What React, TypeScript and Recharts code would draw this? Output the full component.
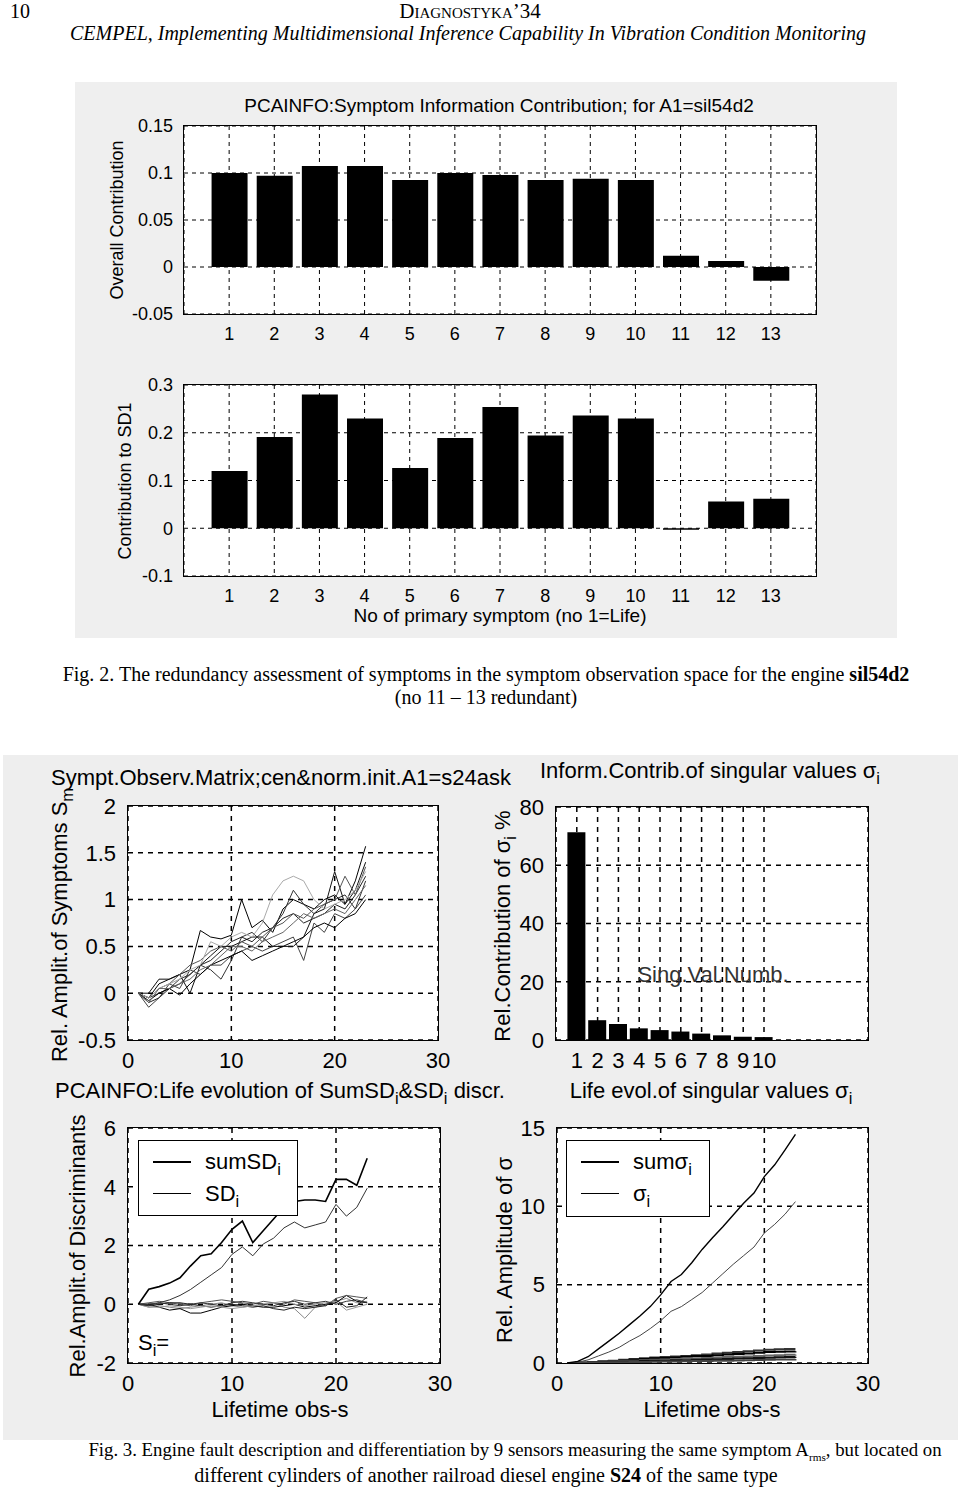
import React from 'react';
import { BarChart, Bar, LineChart, Line, XAxis, YAxis, CartesianGrid } from 'recharts';

// Fig. 2 data: symptoms 1..13
const symptomNo = [1, 2, 3, 4, 5, 6, 7, 8, 9, 10, 11, 12, 13];
const overallContribution = [0.1, 0.097, 0.1075, 0.1075, 0.0925, 0.1, 0.098, 0.0925, 0.094, 0.0925, 0.012, 0.0064, -0.0146];
const contributionSD1 = [0.12, 0.191, 0.28, 0.23, 0.126, 0.189, 0.254, 0.194, 0.236, 0.23, -0.003, 0.056, 0.062];

// Fig. 3 data: lifetime observations 1..23
const obs = [1, 2, 3, 4, 5, 6, 7, 8, 9, 10, 11, 12, 13, 14, 15, 16, 17, 18, 19, 20, 21, 22, 23];
const symp1 = [0, -0.05, 0.1, 0.15, 0.2, 0.25, 0.67, 0.6, 0.58, 0.62, 1.0, 0.7, 0.78, 0.65, 0.9, 1.0, 0.95, 0.9, 1.0, 1.05, 0.95, 1.2, 1.57];
const symp2 = [0, -0.1, -0.05, 0.05, 0.1, 0.2, 0.3, 0.35, 0.45, 0.55, 0.6, 0.55, 0.65, 0.7, 0.8, 0.85, 0.75, 0.8, 0.85, 0.95, 0.9, 1.05, 1.25];
const symp3 = [0, -0.15, -0.05, 0.1, 0.05, 0.25, 0.2, 0.3, 0.3, 0.4, 0.45, 0.5, 0.45, 0.5, 0.55, 0.6, 0.35, 0.75, 0.65, 0.85, 0.8, 0.9, 1.05];
const symp4 = [0, 0, 0.15, 0.15, 0.2, 0.0, 0.3, 0.4, 0.5, 0.5, 0.55, 0.6, 0.6, 0.5, 0.5, 0.5, 0.6, 0.85, 0.9, 1.3, 0.95, 1.1, 1.4];
const symp5 = [0, -0.05, 0.0, 0.05, 0.15, 0.2, 0.3, 0.25, 0.15, 0.35, 0.6, 0.65, 0.55, 0.7, 0.85, 1.1, 0.95, 0.85, 0.95, 1.0, 1.05, 0.9, 1.2];
const symp6 = [0, -0.05, 0.05, 0.1, 0.2, 0.3, 0.35, 0.45, 0.5, 0.45, 0.55, 0.5, 0.6, 0.7, 0.75, 0.85, 0.8, 0.9, 0.95, 1.0, 1.25, 1.05, 1.35];
const symp7 = [0, -0.05, 0.05, 0.1, 0.15, 0.25, 0.3, 0.55, 0.5, 0.6, 0.65, 0.6, 0.75, 1.05, 1.2, 1.25, 1.2, 1.0, 0.9, 0.95, 1.0, 1.1, 1.3];
const symp8 = [0, -0.08, 0.0, 0.05, -0.02, 0.1, 0.2, 0.3, 0.35, 0.4, 0.45, 0.35, 0.4, 0.45, 0.5, 0.55, 0.6, 0.7, 0.75, 0.7, 0.8, 0.85, 1.0];
const symp9 = [0, -0.1, 0.05, 0.05, 0.1, 0.15, 0.25, 0.3, 0.4, 0.5, 0.5, 0.45, 0.55, 0.6, 0.65, 0.75, 0.85, 0.8, 0.85, 0.9, 0.85, 1.0, 1.15];

const sumSD = [0, 0.51, 0.6, 0.72, 0.9, 1.3, 1.65, 1.72, 2.1, 2.55, 2.83, 2.1, 2.5, 2.9, 3.3, 3.5, 3.55, 3.55, 3.5, 4.25, 4.25, 4.05, 4.97];
const sd1 = [0, -0.05, 0.05, 0.15, 0.3, 0.5, 0.75, 1.0, 1.25, 1.7, 1.95, 1.65, 2.05, 2.25, 2.6, 2.8, 2.6, 2.7, 2.8, 3.4, 3.0, 3.3, 3.95];
const sd2 = [0, -0.1, -0.05, -0.1, -0.15, -0.1, -0.05, 0, 0.05, -0.05, -0.1, -0.05, 0, 0.05, -0.1, -0.15, -0.48, -0.1, 0, 0.1, 0.2, 0.05, 0.1];
const sd3 = [0, 0, -0.1, -0.2, -0.15, -0.3, -0.3, -0.2, -0.1, -0.05, 0, -0.05, -0.1, -0.1, -0.05, 0, -0.1, -0.05, 0, 0.05, 0.3, 0.1, 0.05];
const sd4 = [0, 0.05, 0.1, 0.05, 0, -0.05, 0.05, 0.1, 0.15, 0.1, 0.05, 0, 0.1, 0.05, 0, 0.15, 0.1, 0.05, -0.05, 0.2, 0.3, 0.25, 0.2];
const sd5 = [0, -0.05, 0, 0.05, 0.05, 0, -0.05, -0.1, -0.05, 0, -0.05, -0.1, -0.05, -0.15, -0.2, -0.1, -0.15, -0.1, -0.05, 0.15, -0.1, -0.05, 0.25];
const sd6 = [0, -0.1, -0.1, -0.05, -0.1, -0.15, -0.1, -0.05, -0.1, -0.15, -0.1, -0.05, 0, 0.05, 0.1, 0, -0.05, 0, 0.05, 0.1, -0.2, -0.1, 0];
const sd7 = [0, 0, 0.05, 0, -0.05, 0, 0.05, 0, -0.05, 0.05, 0.1, 0.05, 0, -0.05, 0.05, 0.1, 0, 0.05, 0.1, 0, 0.1, 0.15, 0.05];

const singNo = [1, 2, 3, 4, 5, 6, 7, 8, 9, 10];
const singContrib = [71.3, 6.8, 5.5, 4.0, 3.4, 2.9, 2.2, 1.6, 1.1, 1.0];

const sumSigma = [0, 0.1, 0.4, 0.9, 1.4, 1.9, 2.45, 3.0, 3.6, 4.35, 5.2, 5.65, 6.4, 7.25, 8.0, 8.7, 9.45, 10.2, 10.85, 11.9, 12.65, 13.6, 14.6];
const sigma1 = [0, 0.05, 0.2, 0.45, 0.7, 1.0, 1.4, 1.75, 2.2, 2.7, 3.3, 3.6, 4.05, 4.5, 5.1, 5.7, 6.3, 6.85, 7.4, 8.3, 8.85, 9.5, 10.3];
const sigma2 = [0, 0.02, 0.05, 0.1, 0.15, 0.2, 0.25, 0.3, 0.35, 0.38, 0.42, 0.45, 0.5, 0.55, 0.6, 0.65, 0.7, 0.75, 0.8, 0.85, 0.88, 0.9, 0.9];
const sigma3 = [0, 0.02, 0.05, 0.1, 0.12, 0.15, 0.2, 0.25, 0.3, 0.32, 0.35, 0.4, 0.45, 0.45, 0.5, 0.55, 0.58, 0.6, 0.65, 0.7, 0.72, 0.74, 0.75];
const sigma4 = [0, 0.02, 0.04, 0.07, 0.1, 0.12, 0.15, 0.18, 0.2, 0.22, 0.25, 0.28, 0.3, 0.32, 0.35, 0.38, 0.4, 0.42, 0.45, 0.48, 0.5, 0.52, 0.55];
const sigma5 = [0, 0.01, 0.03, 0.05, 0.07, 0.09, 0.1, 0.12, 0.14, 0.15, 0.17, 0.18, 0.2, 0.22, 0.24, 0.26, 0.28, 0.3, 0.32, 0.34, 0.36, 0.38, 0.4];
const sigma6 = [0, 0.01, 0.02, 0.03, 0.04, 0.05, 0.06, 0.07, 0.08, 0.09, 0.1, 0.11, 0.12, 0.13, 0.14, 0.15, 0.16, 0.18, 0.19, 0.2, 0.22, 0.23, 0.25];

const fig2Data = symptomNo.map((n, i) => ({ n, overall: overallContribution[i], sd1: contributionSD1[i] }));
const sympSeries = [symp1, symp2, symp3, symp4, symp5, symp6, symp7, symp8, symp9];
const sympColors = ['#000', '#222', '#444', '#111', '#333', '#555', '#aaa', '#000', '#666'];
const sympData = obs.map((x, i) => {
  const row: any = { x };
  sympSeries.forEach((s, k) => (row['s' + k] = s[i]));
  return row;
});
const sdSeries = [sd2, sd3, sd4, sd5, sd6, sd7];
const sdColors = ['#888', '#000', '#555', '#222', '#999', '#333'];
const sdData = obs.map((x, i) => {
  const row: any = { x, sum: sumSD[i], sd1: sd1[i] };
  sdSeries.forEach((s, k) => (row['n' + k] = s[i]));
  return row;
});
const singData = singNo.map((n, i) => ({ n, v: singContrib[i] }));
const sigSeries = [sigma2, sigma3, sigma4, sigma5, sigma6];
const sigColors = ['#333', '#000', '#666', '#111', '#444'];
const sigData = obs.map((x, i) => {
  const row: any = { x, sum: sumSigma[i], s1: sigma1[i] };
  sigSeries.forEach((s, k) => (row['o' + k] = s[i]));
  return row;
});

const SANS = '"Liberation Sans", Arial, sans-serif';
const SERIF = '"Liberation Serif", "Times New Roman", serif';
const ML = 64, MT = 16, MR = 24, XH = 34;

type Box = { x: number; y: number; w: number; h: number };

const T = ({ x, y, size, anchor = 'middle', font = SANS, style, children }: any) => {
  const tx = anchor === 'middle' ? '-50%' : anchor === 'end' ? '-100%' : '0';
  return (
    <div style={{
      position: 'absolute', left: x, top: y, fontSize: size, fontFamily: font, whiteSpace: 'nowrap',
      lineHeight: 1, color: '#000', transform: `translate(${tx}, -50%)`, ...style,
    }}>{children}</div>
  );
};

// rotated (vertical) label centered at cx, cy
const VT = ({ cx, cy, size, children }: any) => (
  <div style={{
    position: 'absolute', left: cx, top: cy, fontSize: size, fontFamily: SANS, whiteSpace: 'nowrap',
    lineHeight: 1, transform: 'translate(-50%, -50%) rotate(-90deg)',
  }}>{children}</div>
);

const PlotBox = ({ box, children }: { box: Box; children: any }) => (
  <>
    <div style={{ position: 'absolute', left: box.x, top: box.y, width: box.w, height: box.h, background: '#fff' }} />
    <div style={{ position: 'absolute', left: box.x - ML, top: box.y - MT }}>{children}</div>
    <div style={{ position: 'absolute', left: box.x - 1, top: box.y - 1, width: box.w, height: box.h, border: '1.5px solid #000', pointerEvents: 'none' }} />
  </>
);

const dims = (box: Box) => ({ width: ML + box.w + MR, height: MT + box.h + XH, margin: { top: MT, right: MR, left: 0, bottom: 0 } });

const box1: Box = { x: 184, y: 126, w: 632, h: 188 };
const box2: Box = { x: 184, y: 385, w: 632, h: 191 };
const boxA: Box = { x: 128, y: 806, w: 310, h: 234 };
const boxB: Box = { x: 556, y: 807, w: 312, h: 233 };
const boxC: Box = { x: 128, y: 1128, w: 312, h: 235 };
const boxD: Box = { x: 557, y: 1128, w: 311, h: 235 };

const tick2 = { fontSize: 18, fill: '#000', fontFamily: SANS };
const tick3 = { fontSize: 22, fill: '#000', fontFamily: SANS };

const LegendBox = ({ x, y, w, h, items }: any) => (
  <div style={{ position: 'absolute', left: x, top: y, width: w, height: h, background: '#fff', border: '1.5px solid #000', boxSizing: 'border-box' }}>
    {items.map((it: any, i: number) => (
      <div key={i} style={{ position: 'absolute', left: 0, top: 8 + i * 32, width: '100%', height: 28 }}>
        <div style={{ position: 'absolute', left: 14, top: 12, width: 38, height: 0, borderTop: `${it.w}px solid #000` }} />
        <div style={{ position: 'absolute', left: it.tx, top: 0, fontSize: 22, fontFamily: SANS, lineHeight: '26px' }}>{it.label}</div>
      </div>
    ))}
  </div>
);

const sub = (s: string) => <sub style={{ fontSize: '0.75em', verticalAlign: '-0.35em' }}>{s}</sub>;

export default function App() {
  return (
    <div style={{ position: 'absolute', left: 0, top: 0, width: 960, height: 1488, background: '#fff', overflow: 'hidden' }}>
      {/* page header */}
      <T x={10} y={11} size={20} anchor="start" font={SERIF}>10</T>
      <T x={470} y={11} size={21} font={SERIF} style={{ fontVariant: 'small-caps' }}>Diagnostyka’34</T>
      <T x={468} y={33} size={20} font={SERIF} style={{ fontStyle: 'italic' }}>
        CEMPEL, Implementing Multidimensional Inference Capability In Vibration Condition Monitoring
      </T>

      {/* Fig. 2 panel */}
      <div style={{ position: 'absolute', left: 75, top: 82, width: 822, height: 556, background: '#efefef' }} />
      <T x={499} y={105} size={19}>PCAINFO:Symptom Information Contribution; for A1=sil54d2</T>
      <VT cx={117} cy={220} size={18}>Overall Contribution</VT>
      <PlotBox box={box1}>
        <BarChart data={fig2Data} {...dims(box1)}>
          <CartesianGrid stroke="#000" strokeDasharray="4 4" />
          <XAxis type="number" dataKey="n" domain={[0, 14]} ticks={symptomNo} interval={0} tickLine={false} axisLine={false} tick={tick2} tickMargin={7} height={XH} />
          <YAxis type="number" domain={[-0.05, 0.15]} ticks={[-0.05, 0, 0.05, 0.1, 0.15]} interval={0} tickLine={false} axisLine={false} tick={tick2} tickMargin={5} width={ML} />
          <Bar dataKey="overall" fill="#000" barSize={36} isAnimationActive={false} />
        </BarChart>
      </PlotBox>
      <VT cx={125} cy={481} size={18}>Contribution to SD1</VT>
      <PlotBox box={box2}>
        <BarChart data={fig2Data} {...dims(box2)}>
          <CartesianGrid stroke="#000" strokeDasharray="4 4" />
          <XAxis type="number" dataKey="n" domain={[0, 14]} ticks={symptomNo} interval={0} tickLine={false} axisLine={false} tick={tick2} tickMargin={7} height={XH} />
          <YAxis type="number" domain={[-0.1, 0.3]} ticks={[-0.1, 0, 0.1, 0.2, 0.3]} interval={0} tickLine={false} axisLine={false} tick={tick2} tickMargin={5} width={ML} />
          <Bar dataKey="sd1" fill="#000" barSize={36} isAnimationActive={false} />
        </BarChart>
      </PlotBox>
      <T x={500} y={615} size={19}>No of primary symptom (no 1=Life)</T>

      {/* Fig. 2 caption */}
      <T x={486} y={674} size={20} font={SERIF}>
        Fig. 2. The redundancy assessment of symptoms in the symptom observation space for the engine <b>sil54d2</b>
      </T>
      <T x={486} y={697} size={20} font={SERIF}>(no 11 – 13 redundant)</T>

      {/* Fig. 3 panel */}
      <div style={{ position: 'absolute', left: 3, top: 755, width: 955, height: 685, background: '#eeeeee' }} />

      {/* top-left */}
      <T x={281} y={778} size={22}>Sympt.Observ.Matrix;cen&amp;norm.init.A1=s24ask</T>
      <VT cx={62} cy={925} size={22}>Rel. Amplit.of Symptoms S{sub('m')}</VT>
      <PlotBox box={boxA}>
        <LineChart data={sympData} {...dims(boxA)}>
          <CartesianGrid stroke="#000" strokeDasharray="5 5" strokeWidth={1.5} />
          <XAxis type="number" dataKey="x" domain={[0, 30]} ticks={[0, 10, 20, 30]} interval={0} tickLine={false} axisLine={false} tick={tick3} tickMargin={6} height={XH} />
          <YAxis type="number" domain={[-0.5, 2]} ticks={[-0.5, 0, 0.5, 1, 1.5, 2]} interval={0} tickLine={false} axisLine={false} tick={tick3} tickMargin={6} width={ML} />
          {sympSeries.map((_, k) => (
            <Line key={k} dataKey={'s' + k} stroke={sympColors[k]} strokeWidth={1} dot={false} isAnimationActive={false} />
          ))}
        </LineChart>
      </PlotBox>

      {/* top-right */}
      <T x={710} y={773} size={22}>Inform.Contrib.of singular values σ{sub('i')}</T>
      <VT cx={505} cy={926} size={22}>Rel.Contribution of σ{sub('i')} %</VT>
      <PlotBox box={boxB}>
        <BarChart data={singData} {...dims(boxB)}>
          <CartesianGrid stroke="#000" strokeDasharray="5 5" strokeWidth={1.5} />
          <XAxis type="number" dataKey="n" domain={[0, 15]} ticks={singNo} interval={0} tickLine={false} axisLine={false} tick={tick3} tickMargin={6} height={XH} />
          <YAxis type="number" domain={[0, 80]} ticks={[0, 20, 40, 60, 80]} interval={0} tickLine={false} axisLine={false} tick={tick3} tickMargin={6} width={ML} />
          <Bar dataKey="v" fill="#000" barSize={18} isAnimationActive={false} />
        </BarChart>
      </PlotBox>
      <T x={713} y={975} size={22} style={{ color: '#333' }}>Sing.Val.Numb.</T>

      {/* bottom-left */}
      <T x={280} y={1093} size={22}>PCAINFO:Life evolution of SumSD{sub('i')}&amp;SD{sub('i')} discr.</T>
      <VT cx={78} cy={1246} size={22}>Rel.Amplit.of Discriminants</VT>
      <PlotBox box={boxC}>
        <LineChart data={sdData} {...dims(boxC)}>
          <CartesianGrid stroke="#000" strokeDasharray="5 5" strokeWidth={1.5} />
          <XAxis type="number" dataKey="x" domain={[0, 30]} ticks={[0, 10, 20, 30]} interval={0} tickLine={false} axisLine={false} tick={tick3} tickMargin={6} height={XH} />
          <YAxis type="number" domain={[-2, 6]} ticks={[-2, 0, 2, 4, 6]} interval={0} tickLine={false} axisLine={false} tick={tick3} tickMargin={6} width={ML} />
          {sdSeries.map((_, k) => (
            <Line key={k} dataKey={'n' + k} stroke={sdColors[k]} strokeWidth={1} dot={false} isAnimationActive={false} />
          ))}
          <Line dataKey="sd1" stroke="#333" strokeWidth={1} dot={false} isAnimationActive={false} />
          <Line dataKey="sum" stroke="#000" strokeWidth={1.6} dot={false} isAnimationActive={false} />
        </LineChart>
      </PlotBox>
      <LegendBox x={138} y={1140} w={160} h={76} items={[
        { label: <>sumSD{sub('i')}</>, w: 2, tx: 66 },
        { label: <>SD{sub('i')}</>, w: 1, tx: 66 },
      ]} />
      <T x={138} y={1345} size={22} anchor="start">S{sub('i')}=</T>
      <T x={280} y={1410} size={22}>Lifetime obs-s</T>

      {/* bottom-right */}
      <T x={711} y={1093} size={22}>Life evol.of singular values σ{sub('i')}</T>
      <VT cx={505} cy={1250} size={22}>Rel. Amplitude of σ</VT>
      <PlotBox box={boxD}>
        <LineChart data={sigData} {...dims(boxD)}>
          <CartesianGrid stroke="#000" strokeDasharray="5 5" strokeWidth={1.5} />
          <XAxis type="number" dataKey="x" domain={[0, 30]} ticks={[0, 10, 20, 30]} interval={0} tickLine={false} axisLine={false} tick={tick3} tickMargin={6} height={XH} />
          <YAxis type="number" domain={[0, 15]} ticks={[0, 5, 10, 15]} interval={0} tickLine={false} axisLine={false} tick={tick3} tickMargin={6} width={ML} />
          {sigSeries.map((_, k) => (
            <Line key={k} dataKey={'o' + k} stroke={sigColors[k]} strokeWidth={2} dot={false} isAnimationActive={false} type="stepAfter" />
          ))}
          <Line dataKey="s1" stroke="#444" strokeWidth={1} dot={false} isAnimationActive={false} />
          <Line dataKey="sum" stroke="#000" strokeWidth={1.4} dot={false} isAnimationActive={false} />
        </LineChart>
      </PlotBox>
      <LegendBox x={566} y={1140} w={144} h={77} items={[
        { label: <>sumσ{sub('i')}</>, w: 2, tx: 66 },
        { label: <>σ{sub('i')}</>, w: 1, tx: 66 },
      ]} />
      <T x={712} y={1410} size={22}>Lifetime obs-s</T>

      {/* Fig. 3 caption */}
      <T x={515} y={1452} size={18.8} font={SERIF}>
        Fig. 3. Engine fault description and differentiation by 9 sensors measuring the same symptom A<sub style={{ fontSize: '0.6em' }}>rms</sub>, but located on
      </T>
      <T x={486} y={1475} size={20} font={SERIF}>
        different cylinders of another railroad diesel engine <b>S24</b> of the same type
      </T>
    </div>
  );
}
